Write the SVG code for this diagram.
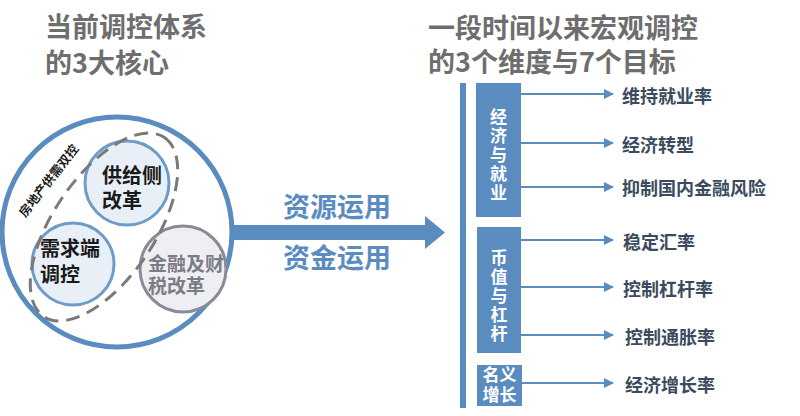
<svg xmlns="http://www.w3.org/2000/svg" width="800" height="416" viewBox="0 0 800 416">
<style>
text{font-family:"Noto Sans CJK SC","Liberation Sans",sans-serif;font-weight:bold}
.title{fill:#6e6e6e;font-size:27px}
.ctext{fill:#1a1a1a;font-size:20px}
.ftext{fill:#7c7c86;font-size:19px}
.flow{fill:#5b8cbf;font-size:27px}
.box{fill:#5b8cbf}
.vt{fill:#ffffff;font-size:17px;text-anchor:middle}
.vcol{fill:#ffffff;font-size:17px;writing-mode:tb;letter-spacing:2px}
.goal{fill:#3b4a5e;font-size:18px}
.conn{stroke:#5b8cbf;stroke-width:2;fill:none}
</style>
<defs>
<marker id="ah" viewBox="0 0 10 10" refX="9" refY="5" markerWidth="5" markerHeight="5" orient="auto" markerUnits="strokeWidth">
<path d="M0,0 L10,5 L0,10 z" fill="#5b8cbf"/>
</marker>
</defs>
<rect width="800" height="416" fill="#ffffff"/>

<g id="title-left">
<text class="title"><tspan x="45" y="37">当前调控体系</tspan><tspan x="45" y="73">的3大核心</tspan></text>
</g>
<g id="title-right">
<text class="title"><tspan x="428" y="38">一段时间以来宏观调控</tspan><tspan x="428" y="72">的3个维度与7个目标</tspan></text>
</g>

<g id="core-circle">
<circle cx="117" cy="232" r="115" fill="#ffffff" stroke="#5b8cbf" stroke-width="5"/>
</g>
<g id="finance">
<circle cx="183" cy="269" r="43" fill="#eeeff3" stroke="#8a8a98" stroke-width="3"/>
<text class="ftext"><tspan x="148" y="271">金融及财</tspan><tspan x="148" y="293">税改革</tspan></text>
</g>
<g id="supply">
<circle cx="127" cy="183" r="42" fill="#e9eff6" stroke="#6e9cc8" stroke-width="3"/>
<text class="ctext"><tspan x="102" y="183">供给侧</tspan><tspan x="102" y="208">改革</tspan></text>
</g>
<g id="demand">
<circle cx="73" cy="264" r="41" fill="#e9eff6" stroke="#6e9cc8" stroke-width="3"/>
<text class="ctext"><tspan x="40" y="256">需求端</tspan><tspan x="40" y="282">调控</tspan></text>
</g>
<g id="housing">
<ellipse cx="104" cy="227" rx="108" ry="51" transform="rotate(-56 104 227)" fill="none" stroke="#7a7a7a" stroke-width="3" stroke-dasharray="14 8"/>
<text x="49" y="185" transform="rotate(-52 49 181)" text-anchor="middle" font-size="12.5" fill="#1a1a1a">房地产供需双控</text>
</g>

<g id="flow">
<path d="M231,225 H425 V216 L445,232.5 L425,249 V240 H231 z" fill="#5b8cbf"/>
<text class="flow" x="283" y="217">资源运用</text>
<text class="flow" x="283" y="268">资金运用</text>
</g>

<g id="spine">
<rect x="460" y="83" width="6" height="325" class="box"/>
</g>
<g id="dim-economy">
<rect x="476" y="83" width="45" height="134" class="box"/>
<text class="vcol" x="498.5" y="108">经济与就业</text>
</g>
<g id="dim-currency">
<rect x="477" y="227" width="44" height="126" class="box"/>
<text class="vcol" x="499" y="249">币值与杠杆</text>
</g>
<g id="dim-nominal">
<rect x="477" y="365" width="45" height="41" class="box"/>
<text class="vt"><tspan x="499.5" y="381">名义</tspan><tspan x="499.5" y="401">增长</tspan></text>
</g>

<g id="connectors">
<line class="conn" x1="521" y1="94" x2="613" y2="94" marker-end="url(#ah)"/>
<line class="conn" x1="521" y1="143" x2="613" y2="143" marker-end="url(#ah)"/>
<line class="conn" x1="521" y1="187" x2="613" y2="187" marker-end="url(#ah)"/>
<line class="conn" x1="521" y1="240" x2="613" y2="240" marker-end="url(#ah)"/>
<line class="conn" x1="521" y1="287" x2="613" y2="287" marker-end="url(#ah)"/>
<line class="conn" x1="521" y1="335" x2="613" y2="335" marker-end="url(#ah)"/>
<line class="conn" x1="522" y1="383" x2="613" y2="383" marker-end="url(#ah)"/>
</g>

<g id="goal-1"><text class="goal" x="622" y="103">维持就业率</text></g>
<g id="goal-2"><text class="goal" x="622" y="152">经济转型</text></g>
<g id="goal-3"><text class="goal" x="622" y="195">抑制国内金融风险</text></g>
<g id="goal-4"><text class="goal" x="623" y="249">稳定汇率</text></g>
<g id="goal-5"><text class="goal" x="623" y="296">控制杠杆率</text></g>
<g id="goal-6"><text class="goal" x="625" y="344">控制通胀率</text></g>
<g id="goal-7"><text class="goal" x="625" y="392">经济增长率</text></g>
</svg>
